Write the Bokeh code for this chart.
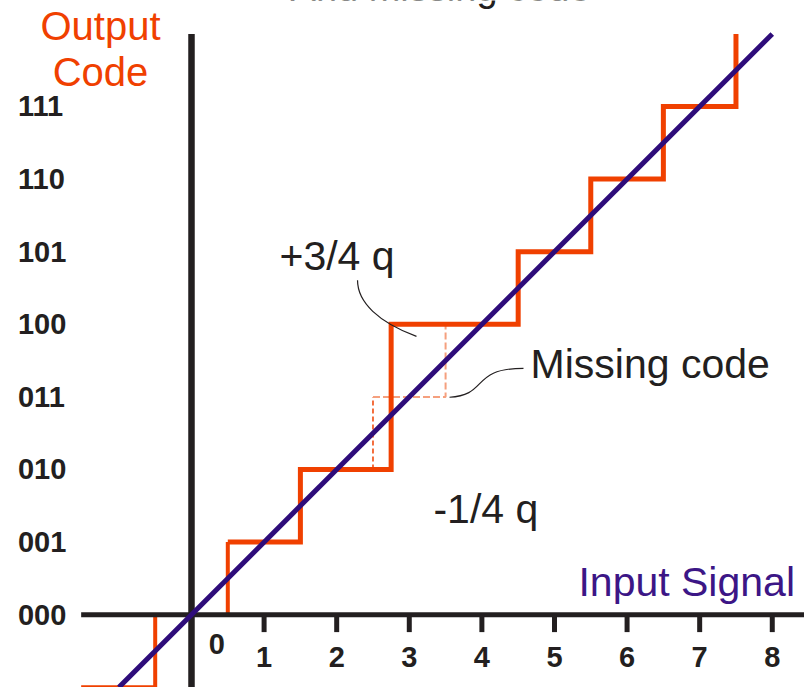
from bokeh.plotting import figure
from bokeh.models import Range1d
from bokeh.core.properties import value
from bokeh.embed import file_html
from bokeh.resources import INLINE

# ---- data ----
# transfer-function staircase (input thresholds and output codes)
step_edges = [-1.52, -0.5, 0.5, 1.5, 2.75, 4.5, 5.5, 6.5, 7.5]
step_codes = [-1, 0, 1, 2, 4, 5, 6, 7]
step_top = 8.0
# missing code (ideal level 3 between 2.5 and 3.5)
missing_x = [2.5, 3.5]
missing_code = 3
# ideal transfer line
ideal_x = [-1.0, 8.0]
ideal_y = [-1.0, 8.0]
# axes
x_ticks = [1, 2, 3, 4, 5, 6, 7, 8]
x_tick_labels = ["1", "2", "3", "4", "5", "6", "7", "8"]
y_codes = [0, 1, 2, 3, 4, 5, 6, 7]
y_code_labels = ["000", "001", "010", "011", "100", "101", "110", "111"]

ORANGE = "#F04000"
SALMON = "#F5A07E"
PURPLE = "#2E0C7A"
PURPLE_TXT = "#3C1686"
BLACK = "#231F20"
FONT = "Liberation Sans"
DY = 0.19  # baseline correction

p = figure(width=804, height=687,
           x_range=Range1d(-2.631, 8.444), y_range=Range1d(-1.003, 8.46),
           output_backend="svg", toolbar_location=None, min_border=0,
           x_axis_location=None, y_axis_location=None)
p.grid.visible = False
p.outline_line_color = None
p.background_fill_color = "white"
p.border_fill_color = "white"

# staircase path
sx, sy = [], []
for i, c in enumerate(step_codes):
    sx += [step_edges[i], step_edges[i + 1]]
    sy += [c, c]
sx.append(step_edges[-1])
sy.append(step_top)

# level 0 (thin, light, mostly under axis)
p.line(sx[2:4], sy[2:4], line_color=SALMON, line_width=2)

# missing code dashed lines
p.line([missing_x[0], missing_x[0]], [missing_code - 1, missing_code],
       line_color=ORANGE, line_width=1.5, line_dash="5 3")
p.line([missing_x[0], missing_x[1], missing_x[1]],
       [missing_code, missing_code, missing_code + 1],
       line_color=SALMON, line_width=2, line_dash="7 3")

# left part of staircase
p.line(sx[:3], sy[:3], line_color=ORANGE, line_width=4)
p.line([sx[3], sx[4]], [sy[3], sy[4]], line_color=ORANGE, line_width=4)
# main staircase
p.line(sx[4:], sy[4:], line_color=ORANGE, line_width=5, line_join="miter")

# axes
p.segment(x0=[0], y0=[-1.6], x1=[0], y1=[8.0], line_color=BLACK, line_width=6.5)
p.segment(x0=[-1.52], y0=[0], x1=[8.6], y1=[0], line_color=BLACK, line_width=5)
p.segment(x0=x_ticks, y0=[0] * len(x_ticks), x1=x_ticks, y1=[-0.24] * len(x_ticks),
          line_color=BLACK, line_width=5)

# ideal line
p.line(ideal_x, ideal_y, line_color=PURPLE, line_width=5)

# tick labels
p.text(x=x_ticks, y=[-0.58] * len(x_ticks), text=x_tick_labels,
       text_font=value(FONT), text_font_style="bold", text_font_size=value("29px"),
       text_align="center", text_baseline="middle", text_color=BLACK)
p.text(x=[0.35], y=[-0.41], text=["0"],
       text_font=value(FONT), text_font_style="bold", text_font_size=value("29px"),
       text_align="center", text_baseline="middle", text_color=BLACK)
p.text(x=[-2.39] * len(y_codes), y=y_codes, text=y_code_labels,
       text_font=value(FONT), text_font_style="bold", text_font_size=value("29px"),
       text_align="left", text_baseline="middle", text_color=BLACK)

# title (cut off at the top edge, as in the original)
p.text(x=[3.43], y=[8.343], text=["And missing code"],
       text_font=value(FONT), text_font_size=value("38px"),
       text_align="center", text_baseline="bottom", text_color=BLACK)

# axis titles
p.text(x=[-1.253, -1.253], y=[7.916 + DY, 7.289 + DY], text=["Output", "Code"],
       text_font=value(FONT), text_font_size=value("40px"),
       text_align="center", text_baseline="alphabetic", text_color=ORANGE)
p.text(x=[5.33], y=[0.265 + DY], text=["Input Signal"],
       text_font=value(FONT), text_font_size=value("41px"),
       text_align="left", text_baseline="alphabetic", text_color=PURPLE_TXT)

# annotations
p.text(x=[1.212, 4.67, 3.333], y=[4.745 + DY, 3.257 + DY, 1.259 + DY],
       text=["+3/4 q", "Missing code", "-1/4 q"],
       text_font=value(FONT), text_font_size=value("41px"),
       text_align="left", text_baseline="alphabetic", text_color=BLACK)

# leader curves
p.bezier(x0=[2.287, 3.554], y0=[4.606, 2.995],
         x1=[3.099, 4.573], y1=[3.834, 3.394],
         cx0=[2.287, 4.091], cy0=[4.303, 3.022],
         cx1=[2.576, 3.843], cy1=[4.027, 3.394],
         line_color=BLACK, line_width=1.2)

open("out.html", "w").write(file_html(p, INLINE))
